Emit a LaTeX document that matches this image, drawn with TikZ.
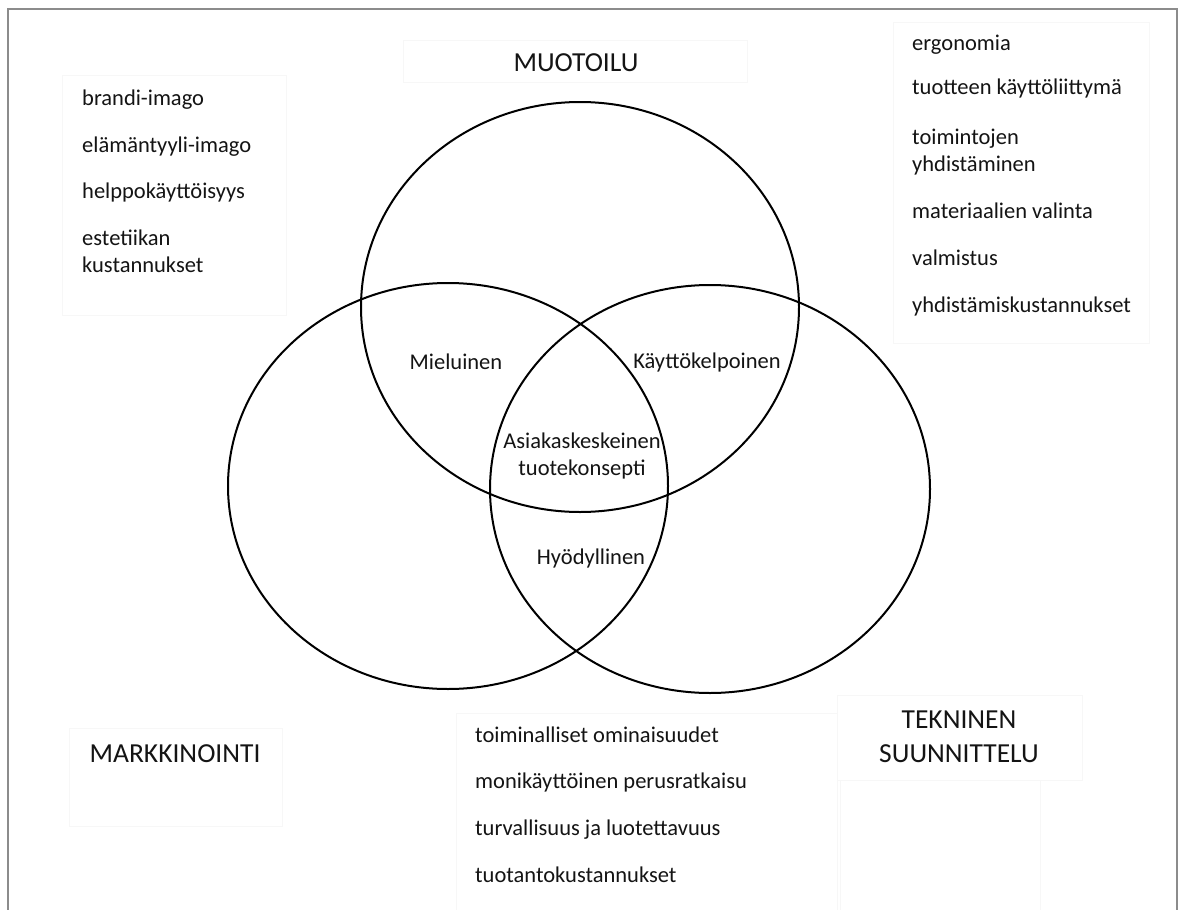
\documentclass[tikz,border=0pt]{standalone}
\usepackage{fontspec}
\setmainfont{Carlito}
\begin{document}
\begin{tikzpicture}[x=1pt,y=-1pt,
  ring/.style={draw=black, line width=2pt},
  panel/.style={draw=black!3, line width=0.6pt},
  item/.style={anchor=base west, inner sep=0pt, font=\fontsize{22.5}{27}\selectfont, align=left, text=black!92},
  area/.style={inner sep=0pt, font=\fontsize{22.5}{27}\selectfont, align=center, text=black!92},
  heading/.style={inner sep=0pt, font=\fontsize{27.5}{34}\selectfont, align=center, text=black!92},
]
\useasboundingbox (0,0) rectangle (1178,910);
\fill[white] (0,0) rectangle (1178,910);
% frame
\draw[black!45, line width=1.5pt] (8,912) -- (8,9) -- (1177,9) -- (1177,912);

% faint text panels
\draw[panel] (62,75) rectangle (286,315);
\draw[panel] (893,22) rectangle (1149,343);
\draw[panel] (403,40) rectangle (747,82);
\draw[panel] (69,728) rectangle (282,826);
\draw[panel] (837,695) rectangle (1082,780);
\draw[panel] (456,713) rectangle (837,915);
\draw[panel] (840,780) rectangle (1040,915);

% the three overlapping areas
\draw[ring] (580,307) ellipse [x radius=219, y radius=205];
\draw[ring] (448,486) ellipse [x radius=220, y radius=203];
\draw[ring] (710,489) ellipse [x radius=220, y radius=204];

% headings
\node[heading] (muotoilu) at (576,63) {MUOTOILU};
\node[heading] (markkinointi) at (175,754) {MARKKINOINTI};
\node[heading] (tekninen) at (959,737) {TEKNINEN\\SUUNNITTELU};

% overlap labels
\node[area] (mieluinen) at (456,362) {Mieluinen};
\node[area] (kaytto) at (707,362) {Käyttökelpoinen};
\node[area] (asiakas) at (582,456) {Asiakaskeskeinen\\tuotekonsepti};
\node[area] (hyody) at (591,558) {Hyödyllinen};

% marketing list (base anchor sits on the last line)
\node[item] (m1) at (82,105) {brandi-imago};
\node[item] (m2) at (82,152) {elämäntyyli-imago};
\node[item] (m3) at (82,198) {helppokäyttöisyys};
\node[item] (m4) at (82,272) {estetiikan\\kustannukset};

% design list
\node[item] (d1) at (912,50) {ergonomia};
\node[item] (d2) at (912,94) {tuotteen käyttöliittymä};
\node[item] (d3) at (912,171) {toimintojen\\yhdistäminen};
\node[item] (d4) at (912,218) {materiaalien valinta};
\node[item] (d5) at (912,265) {valmistus};
\node[item] (d6) at (912,312) {yhdistämiskustannukset};

% engineering list
\node[item] (t1) at (475,742) {toiminalliset ominaisuudet};
\node[item] (t2) at (475,788) {monikäyttöinen perusratkaisu};
\node[item] (t3) at (475,835) {turvallisuus ja luotettavuus};
\node[item] (t4) at (475,882) {tuotantokustannukset};
\end{tikzpicture}
\end{document}
